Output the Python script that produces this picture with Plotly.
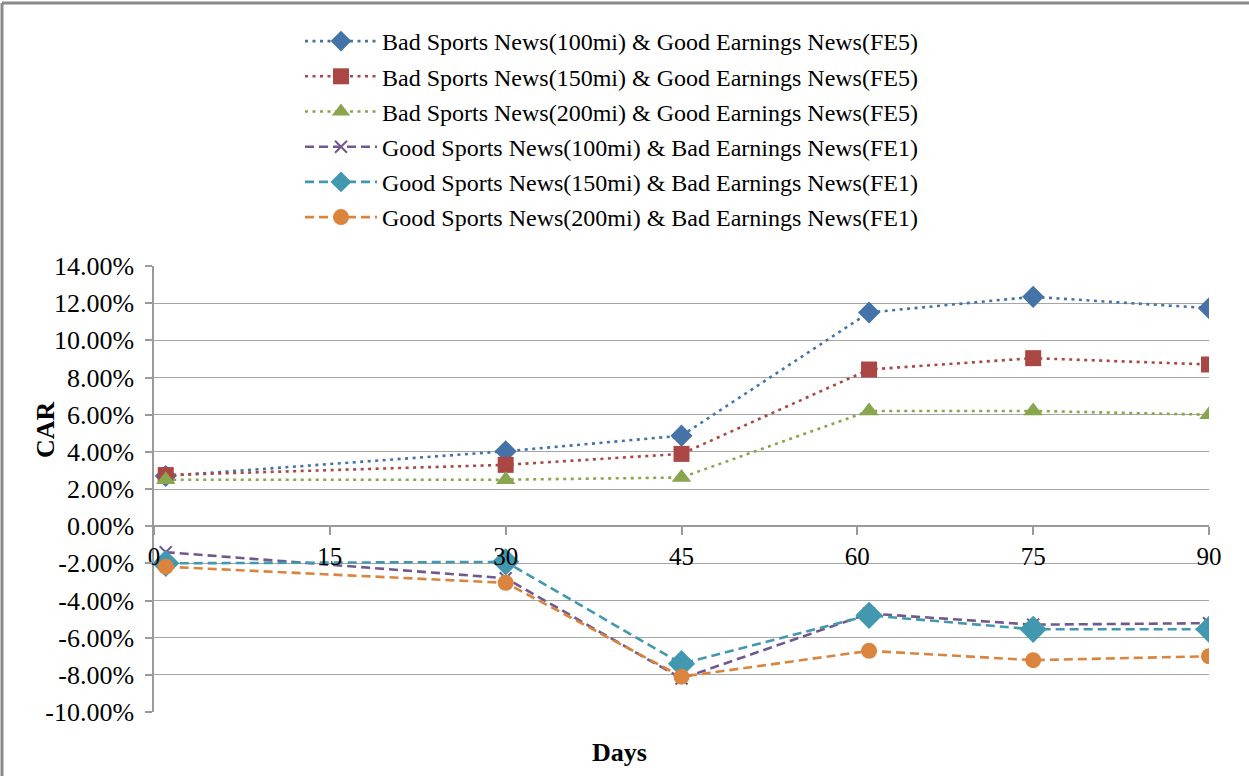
import plotly.graph_objects as go

days = [1, 30, 45, 61, 75, 90]

names = [
    "Bad Sports News(100mi) & Good Earnings News(FE5)",
    "Bad Sports News(150mi) & Good Earnings News(FE5)",
    "Bad Sports News(200mi) & Good Earnings News(FE5)",
    "Good Sports News(100mi) & Bad Earnings News(FE1)",
    "Good Sports News(150mi) & Bad Earnings News(FE1)",
    "Good Sports News(200mi) & Bad Earnings News(FE1)",
]

bad100 = [2.70, 4.03, 4.87, 11.50, 12.34, 11.73]
bad150 = [2.75, 3.30, 3.89, 8.43, 9.04, 8.70]
bad200 = [2.50, 2.50, 2.62, 6.20, 6.20, 6.00]
good100 = [-1.40, -2.80, -8.20, -4.70, -5.30, -5.22]
good150 = [-2.00, -1.92, -7.40, -4.80, -5.55, -5.55]
good200 = [-2.18, -3.05, -8.10, -6.71, -7.21, -7.00]

series = [bad100, bad150, bad200, good100, good150, good200]
colors = ["#4572A7", "#AA4643", "#89A54E", "#71588F", "#4198AF", "#DB843D"]
symbols = ["diamond", "square", "triangle-up", "x-thin", "diamond", "circle"]
msizes = [17, 16, 17, 12, 21, 16]
dashes = ["3px,4.5px", "3px,4.5px", "3px,4.5px", "9px,5px", "9px,5px", "9px,5px"]

y_ticks = [-10, -8, -6, -4, -2, 0, 2, 4, 6, 8, 10, 12, 14]
y_labels = [f"{v:.2f}%" for v in y_ticks]
x_ticks = [0, 15, 30, 45, 60, 75, 90]

FONT = "Liberation Serif"

fig = go.Figure()
for i, (nm, ys) in enumerate(zip(names, series)):
    mk = dict(symbol=symbols[i], size=msizes[i], color=colors[i])
    if symbols[i] == "x-thin":
        mk["line"] = dict(color=colors[i], width=2)
    fig.add_trace(go.Scatter(
        x=days, y=ys, name=nm, mode="lines+markers",
        line=dict(color=colors[i], width=2.6, dash=dashes[i]),
        marker=mk, legendgroup=f"g{i}",
    ))

L, R, T, B = 154, 40, 266, 64
W, H = 1249, 776
pw = W - L - R
ph = H - T - B

def px2paper_x(px):
    return (px - L) / pw

def px2paper_y(py):
    return (H - B - py) / ph

fig.update_layout(
    width=W, height=H,
    margin=dict(l=L, r=R, t=T, b=B),
    paper_bgcolor="white", plot_bgcolor="white",
    font=dict(family=FONT, color="black", size=22),
    showlegend=True,
    legend=dict(
        x=px2paper_x(300), y=px2paper_y(19), xanchor="left", yanchor="top",
        font=dict(family=FONT, size=24, color="black"),
        tracegroupgap=1, itemwidth=72,
        bgcolor="rgba(0,0,0,0)",
    ),
    xaxis=dict(
        range=[0, 90], tickvals=x_ticks, ticktext=[str(v) for v in x_ticks],
        showgrid=False, zeroline=False,
        showline=True, linecolor="#9a9a9a", linewidth=1.5,
        ticks="outside", ticklen=8, tickcolor="#9a9a9a", tickwidth=1.5,
        tickfont=dict(family=FONT, size=25, color="black"),
        anchor="free", position=10 / 24,
        ticklabelstandoff=0,
    ),
    yaxis=dict(
        range=[-10, 14], tickvals=y_ticks, ticktext=y_labels,
        showgrid=True, gridcolor="#a6a6a6", gridwidth=1.2,
        zeroline=False,
        showline=True, linecolor="#9a9a9a", linewidth=1.5,
        ticks="outside", ticklen=7, tickcolor="#9a9a9a", tickwidth=1.5,
        tickfont=dict(family=FONT, size=26, color="black"),
        ticklabelstandoff=6,
    ),
)

# axis titles
fig.add_annotation(
    text="<b>Days</b>", xref="paper", yref="paper",
    x=px2paper_x(619), y=px2paper_y(752), xanchor="center", yanchor="middle",
    showarrow=False, font=dict(family=FONT, size=26, color="black"),
)
fig.add_annotation(
    text="<b>CAR</b>", xref="paper", yref="paper", textangle=-90,
    x=px2paper_x(45), y=px2paper_y(430), xanchor="center", yanchor="middle",
    showarrow=False, font=dict(family=FONT, size=26, color="black"),
)

# outer chart border (left and top edges visible)
fig.add_shape(type="line", xref="paper", yref="paper",
              x0=px2paper_x(2), x1=px2paper_x(2), y0=px2paper_y(3), y1=px2paper_y(790),
              line=dict(color="#8a8a8a", width=3))
fig.add_shape(type="line", xref="paper", yref="paper",
              x0=px2paper_x(2), x1=px2paper_x(1260), y0=px2paper_y(3), y1=px2paper_y(3),
              line=dict(color="#8a8a8a", width=3))

fig.write_html("out.html", config={"displayModeBar": False},
               post_script="document.body.style.margin='0';")
